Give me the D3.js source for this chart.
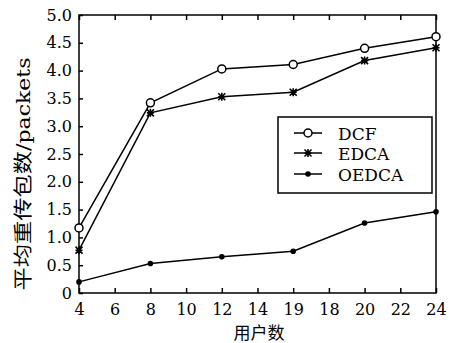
<!DOCTYPE html>
<html><head><meta charset="utf-8">
<script src="https://cdn.jsdelivr.net/npm/d3@7"></script>
<style>body{margin:0;background:#fff}svg{display:block}</style>
</head><body>
<svg id="c" width="450" height="343"></svg>
<script>
const users = [4, 8, 12, 16, 20, 24];
const dcf = [1.17, 3.42, 4.03, 4.11, 4.40, 4.61];
const edca = [0.77, 3.24, 3.53, 3.61, 4.18, 4.41];
const oedca = [0.20, 0.53, 0.65, 0.75, 1.26, 1.46];
const xTickValues = [4, 6, 8, 10, 12, 14, 16, 18, 20, 22, 24];
const xTickLabels = ["4", "6", "8", "10", "12", "14", "19", "18", "20", "22", "24"];
const yTickValues = [0, 0.5, 1, 1.5, 2, 2.5, 3, 3.5, 4, 4.5, 5];
const yTickLabels = ["0", "0.5", "1.0", "1.5", "2.0", "2.5", "3.0", "3.5", "4.0", "4.5", "5.0"];
const seriesNames = ["DCF", "EDCA", "OEDCA"];

const svg = d3.select("#c");
const L = 79, R = 436, T = 15, B = 293;
const x = d3.scaleLinear().domain([4, 24]).range([L, R]);
const y = d3.scaleLinear().domain([0, 5]).range([B, T]);
const font = '"DejaVu Serif", serif';
const cjk = '"Noto Sans CJK SC", sans-serif';

// frame
svg.append("rect").attr("x", L).attr("y", T).attr("width", R - L).attr("height", B - T)
  .attr("fill", "none").attr("stroke", "#000").attr("stroke-width", 1.5);

// bottom axis
const xb = svg.append("g").attr("transform", `translate(0,${B})`)
  .call(d3.axisBottom(x).tickValues(xTickValues).tickSizeInner(-5).tickSizeOuter(0).tickPadding(10.5)
    .tickFormat((d, i) => xTickLabels[i]));
// top axis
const xt = svg.append("g").attr("transform", `translate(0,${T})`)
  .call(d3.axisTop(x).tickValues(xTickValues).tickSizeInner(-5).tickSizeOuter(0).tickFormat(""));
// left axis
const yl = svg.append("g").attr("transform", `translate(${L},0)`)
  .call(d3.axisLeft(y).tickValues(yTickValues).tickSizeInner(-4).tickSizeOuter(0).tickPadding(7)
    .tickFormat((d, i) => yTickLabels[i]));
[xb, xt, yl].forEach(g => {
  g.attr("font-family", null).attr("font-size", null);
  g.select(".domain").remove();
  g.selectAll(".tick line").attr("stroke", "#000").attr("stroke-width", 1.5);
  g.selectAll("text").style("font-family", font).style("font-size", "16px").attr("fill", "#000");
});

// lines
const line = d3.line().x((d, i) => x(users[i])).y(d => y(d));
const data = [dcf, edca, oedca];
data.forEach(s => {
  svg.append("path").attr("d", line(s)).attr("fill", "none").attr("stroke", "#000").attr("stroke-width", 1.5);
});

function marker(g, type, cx, cy) {
  if (type === 0) {
    g.append("circle").attr("cx", cx).attr("cy", cy).attr("r", 4)
      .attr("fill", "#fff").attr("stroke", "#000").attr("stroke-width", 1.5);
  } else if (type === 1) {
    const s = 3.5;
    g.append("path").attr("d",
      `M${cx - s},${cy - s}L${cx + s},${cy + s}M${cx - s},${cy + s}L${cx + s},${cy - s}M${cx},${cy - s - 0.5}L${cx},${cy + s + 0.5}M${cx - s},${cy}L${cx + s},${cy}`)
      .attr("stroke", "#000").attr("stroke-width", 1.6);
  } else {
    g.append("circle").attr("cx", cx).attr("cy", cy).attr("r", 2.8).attr("fill", "#000");
  }
}
data.forEach((s, k) => {
  const g = svg.append("g");
  s.forEach((v, i) => marker(g, k, x(users[i]), y(v)));
});

// legend
const lg = svg.append("g");
lg.append("rect").attr("x", 278).attr("y", 117).attr("width", 154).attr("height", 76)
  .attr("fill", "#fff").attr("stroke", "#000").attr("stroke-width", 1.5);
const rowsY = [133, 153, 174];
seriesNames.forEach((n, k) => {
  lg.append("line").attr("x1", 294).attr("x2", 322).attr("y1", rowsY[k]).attr("y2", rowsY[k])
    .attr("stroke", "#000").attr("stroke-width", 1.5);
  marker(lg, k, 308, rowsY[k]);
  lg.append("text").attr("x", 338).attr("y", rowsY[k] + 7).text(n)
    .style("font-family", font).style("font-size", "17px").attr("fill", "#000");
});

// axis titles
svg.append("text").attr("x", 259).attr("y", 339).attr("text-anchor", "middle")
  .style("font-family", cjk).style("font-size", "17px").attr("fill", "#000").text("用户数");
svg.append("text").attr("transform", "translate(30,174) rotate(-90)").attr("text-anchor", "middle")
  .attr("fill", "#000")
  .attr("textLength", 233).attr("lengthAdjust", "spacingAndGlyphs")
  .call(t => {
    t.append("tspan").style("font-family", cjk).style("font-size", "19px").text("平均重传包数");
    t.append("tspan").style("font-family", font).style("font-size", "18px").text("/packets");
  });
</script>
</body></html>
